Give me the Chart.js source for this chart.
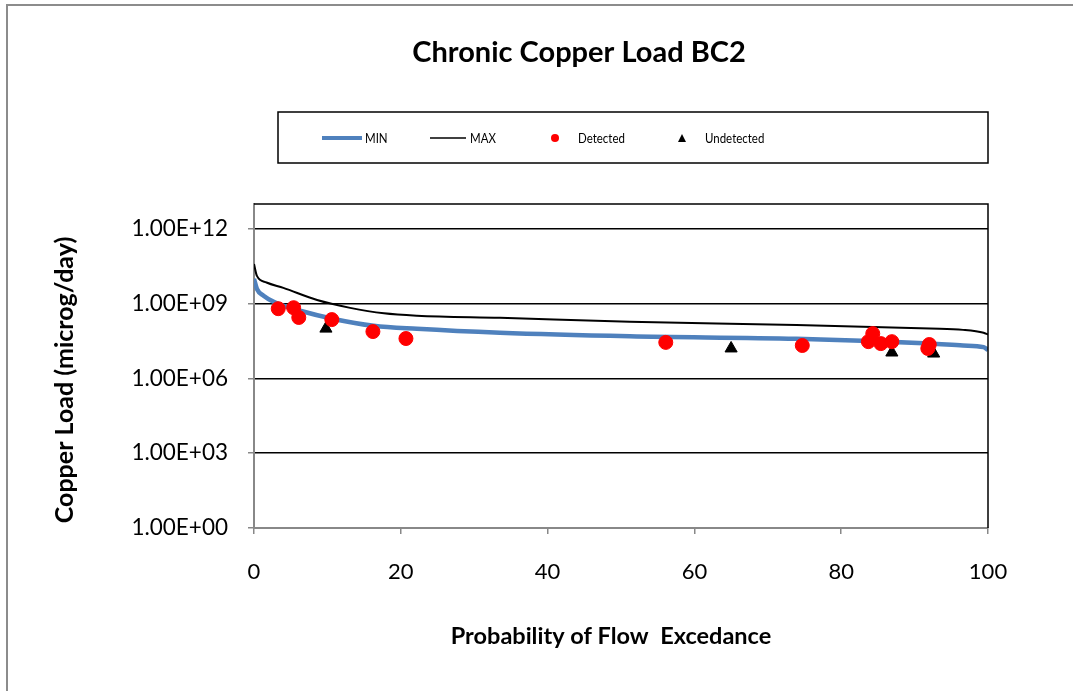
<!DOCTYPE html>
<html>
<head>
<meta charset="utf-8">
<script src="https://cdn.jsdelivr.net/npm/chart.js@4.4.1/dist/chart.umd.min.js"></script>
<style>
  html, body { margin: 0; padding: 0; background: #fff; }
  #wrap { width: 1073px; height: 691px; position: relative; }
</style>
</head>
<body>
<div id="wrap"><canvas id="cuChart" width="1073" height="691"></canvas></div>
<script>
// flow exceedance curves (percent, microg/day)
var minX = [0, 0.4, 1.3, 2.9, 6.3, 10.7, 16.3, 22.2, 33.5, 51.2, 73.9, 92.1, 96.6, 99.4, 100];
var minY = [1.0e10, 3.9e9, 2.1e9, 1.1e9, 5.2e8, 2.5e8, 1.3e8, 9.8e7, 6.8e7, 4.9e7, 3.9e7, 2.5e7, 2.1e7, 1.8e7, 1.4e7];
var maxX = [0, 0.4, 1.7, 4.0, 8.6, 13.1, 17.7, 22.2, 33.5, 51.2, 73.9, 92.1, 96.6, 99.4, 100];
var maxY = [3.9e10, 1.3e10, 7.1e9, 4.3e9, 1.4e9, 6.8e8, 4.1e8, 3.3e8, 2.7e8, 1.9e8, 1.4e8, 1.0e8, 8.9e7, 6.8e7, 5.8e7];

// samples
var detX = [3.3, 5.4, 6.1, 10.6, 16.2, 20.7, 56.1, 74.7, 84.3, 83.7, 85.4, 86.9, 92.0, 91.8];
var detY = [6.3e8, 6.9e8, 2.8e8, 2.3e8, 7.6e7, 4.0e7, 2.8e7, 2.1e7, 6.3e7, 3.0e7, 2.5e7, 3.0e7, 2.3e7, 1.6e7];
var undX = [9.8, 65.0, 86.9, 92.6];
var undY = [1.0e8, 1.6e7, 1.1e7, 1.0e7];

var yTicks = [1, 1e3, 1e6, 1e9, 1e12];
var yTickLabels = ['1.00E+00', '1.00E+03', '1.00E+06', '1.00E+09', '1.00E+12'];

function pts(xs, ys) {
    return xs.map(function(x, i) { return {x: x, y: ys[i]}; });
}

var FONT = 'Lato, "Open Sans", sans-serif';

// legend text is narrow in the original, squeeze it a bit
function narrowText(c, txt, x, y) {
    c.save();
    c.translate(x, y);
    c.scale(0.82, 1);
    c.fillText(txt, 0, 0);
    c.restore();
}

var decor = {
    id: 'decor',
    beforeDraw: function(chart) {
        var c = chart.ctx;
        c.save();
        // outer frame (only left and top visible)
        c.strokeStyle = '#8c8c8c';
        c.lineWidth = 2;
        c.beginPath();
        c.moveTo(7, 691);
        c.lineTo(7, 5);
        c.lineTo(1073, 5);
        c.stroke();
        // title
        c.fillStyle = '#000';
        c.font = 'bold 29px ' + FONT;
        c.textAlign = 'center';
        c.textBaseline = 'middle';
        c.fillText('Chronic Copper Load BC2', 579, 53);
        // axis titles (both sit a little off the plot centre)
        c.font = 'bold 23.5px ' + FONT;
        c.fillText('Probability of Flow  Excedance', 611, 636);
        c.save();
        c.translate(65, 380);
        c.rotate(-Math.PI / 2);
        c.font = 'bold 25px ' + FONT;
        c.fillText('Copper Load (microg/day)', 0, 0);
        c.restore();
        // legend box
        c.strokeStyle = '#000';
        c.lineWidth = 1.5;
        c.strokeRect(278, 112, 710, 51);
        c.font = '14px ' + FONT;
        c.textAlign = 'left';
        var ly = 138;
        c.strokeStyle = '#4f81bd';
        c.lineWidth = 4;
        c.beginPath(); c.moveTo(322, ly); c.lineTo(362, ly); c.stroke();
        narrowText(c, 'MIN', 365, ly);
        c.strokeStyle = '#000';
        c.lineWidth = 1.5;
        c.beginPath(); c.moveTo(430, ly); c.lineTo(466, ly); c.stroke();
        narrowText(c, 'MAX', 470, ly);
        c.fillStyle = '#ff0000';
        c.beginPath(); c.arc(555, ly, 4, 0, Math.PI * 2); c.fill();
        c.fillStyle = '#000';
        narrowText(c, 'Detected', 578, ly);
        c.beginPath();
        c.moveTo(682, ly - 4); c.lineTo(686, ly + 4); c.lineTo(678, ly + 4); c.closePath(); c.fill();
        narrowText(c, 'Undetected', 705, ly);
        c.restore();
    },
    afterDraw: function(chart) {
        var a = chart.chartArea, c = chart.ctx;
        c.save();
        c.strokeStyle = '#000';
        c.lineWidth = 1.5;
        c.beginPath();
        c.moveTo(a.left, a.top);
        c.lineTo(a.right, a.top);
        c.lineTo(a.right, a.bottom);
        c.stroke();
        c.restore();
    }
};

var ctx = document.getElementById('cuChart').getContext('2d');
var config = {
    type: 'line',
    data: {
        datasets: [{
            label: 'Detected',
            type: 'scatter',
            data: pts(detX, detY),
            backgroundColor: '#ff0000',
            borderColor: '#ff0000',
            pointRadius: 7,
            pointStyle: 'circle',
            showLine: false
        }, {
            label: 'Undetected',
            type: 'scatter',
            data: pts(undX, undY),
            backgroundColor: '#000',
            borderColor: '#000',
            pointRadius: 7,
            pointStyle: 'triangle',
            showLine: false
        }, {
            label: 'MAX',
            data: pts(maxX, maxY),
            borderColor: '#000',
            borderWidth: 2,
            pointRadius: 0,
            cubicInterpolationMode: 'monotone',
            fill: false
        }, {
            label: 'MIN',
            data: pts(minX, minY),
            borderColor: '#4f81bd',
            borderWidth: 4.5,
            pointRadius: 0,
            cubicInterpolationMode: 'monotone',
            fill: false
        }]
    },
    options: {
        responsive: false,
        animation: false,
        layout: { padding: { top: 204, right: 85, left: 0, bottom: 0 } },
        plugins: {
            legend: { display: false },
            title: { display: false },
            tooltip: { enabled: false }
        },
        scales: {
            x: {
                type: 'linear',
                min: 0,
                max: 100,
                ticks: { stepSize: 20, color: '#000', padding: 25, font: { family: FONT, size: 22 } },
                grid: { drawOnChartArea: false, tickLength: 6, tickColor: '#888', lineWidth: 1.5 },
                border: { color: '#888', width: 2 },
                afterFit: function(s) { s.height = 163; }
            },
            y: {
                type: 'logarithmic',
                min: 1,
                max: 1e13,
                afterBuildTicks: function(s) {
                    s.ticks = yTicks.map(function(v) { return {value: v}; });
                },
                ticks: {
                    color: '#000',
                    padding: 20,
                    font: { family: FONT, size: 22.5 },
                    callback: function(v) {
                        var i = yTicks.indexOf(v);
                        return i >= 0 ? yTickLabels[i] : '';
                    }
                },
                grid: { color: '#000', lineWidth: 1.5, tickLength: 6, tickColor: '#888' },
                border: { color: '#888', width: 2 },
                afterFit: function(s) { s.width = 254; }
            }
        }
    },
    plugins: [decor]
};

var chart = new Chart(ctx, config);
</script>
</body>
</html>
